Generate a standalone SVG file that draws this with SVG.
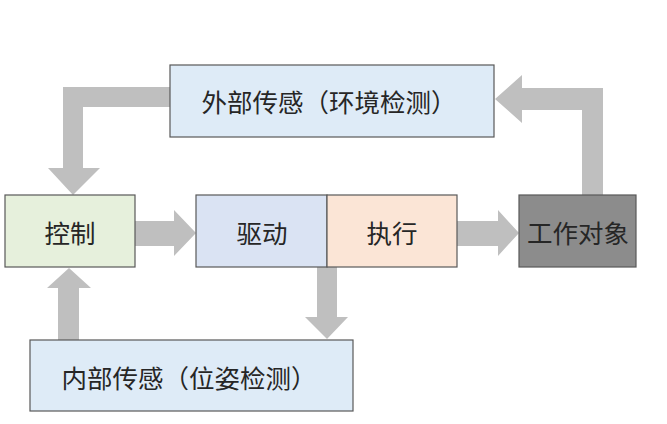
<svg xmlns="http://www.w3.org/2000/svg" width="667" height="424" viewBox="0 0 667 424">
<style>
.box{stroke:#595959;stroke-width:1.2}
.t{font-family:"Noto Sans CJK SC","Liberation Sans",sans-serif;font-size:25.5px;fill:#262626;text-anchor:middle;dominant-baseline:central}
.arr{fill:#bfbfbf}
</style>
<rect width="667" height="424" fill="#ffffff"/>
<g id="connectors">
<polygon class="arr" points="170,87 63,87 63,168 48,168 73,195 100,168 83,168 83,107 170,107"/>
<polygon class="arr" points="603,195 603,88 522,88 522,75 495,99 522,123 522,110 582,110 582,195"/>
<polygon class="arr" points="135,221 174,221 174,210 196,233 174,256 174,246 135,246"/>
<polygon class="arr" points="457,221 498,221 498,210 519,233 498,256 498,246 457,246"/>
<polygon class="arr" points="317,267 337,267 337,317 348,317 327,339 305,317 317,317"/>
<polygon class="arr" points="58,340 79,340 79,288 91,288 69,268 47,288 58,288"/>
</g>
<g id="external">
<rect class="box" x="170" y="65" width="324" height="72" fill="#deebf7"/>
<text class="t" x="329" y="100">外部传感（环境检测）</text>
</g>
<g id="control">
<rect class="box" x="5" y="195" width="130" height="72" fill="#e6f0dc"/>
<text class="t" x="70" y="231">控制</text>
</g>
<g id="drive">
<rect class="box" x="196" y="195" width="131" height="72" fill="#dae3f3"/>
<text class="t" x="262" y="231">驱动</text>
</g>
<g id="execute">
<rect class="box" x="327" y="195" width="130" height="72" fill="#fbe5d6"/>
<text class="t" x="392" y="231">执行</text>
</g>
<g id="work">
<rect class="box" x="519" y="195" width="117" height="72" fill="#8c8c8c"/>
<text class="t" x="578" y="231">工作对象</text>
</g>
<g id="internal">
<rect class="box" x="30" y="340" width="323" height="71" fill="#deebf7"/>
<text class="t" x="189" y="376">内部传感（位姿检测）</text>
</g>
</svg>
